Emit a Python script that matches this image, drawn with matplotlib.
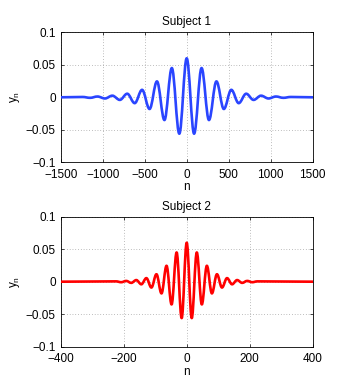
import numpy as np
import matplotlib
matplotlib.use("Agg")
import matplotlib.pyplot as plt
from matplotlib.path import Path
from matplotlib.patches import PathPatch

plt.rcParams['font.family'] = ['Liberation Sans', 'DejaVu Sans']
plt.rcParams['mathtext.fontset'] = 'custom'
plt.rcParams['mathtext.rm'] = 'Liberation Sans'
plt.rcParams['font.size'] = 8.5

# peaks / troughs of the right half (n >= 0).
# both curves are mirror-symmetric about n = 0
amp = [0.06, -0.056, 0.045, -0.035, 0.0245, -0.018, 0.0115, -0.009,
       0.0055, -0.004, 0.0025, -0.0018, 0.0012, -0.0008, 0.0005]
n1_ext = [0, 88, 177, 265, 354, 442, 531, 619, 708, 796, 885, 973, 1062, 1150, 1239]
n2_ext = [0, 16, 32, 48, 64, 80, 96, 112, 128, 144, 160, 176, 192, 208, 224]

x1_ticks = [-1500, -1000, -500, 0, 500, 1000, 1500]
x2_ticks = [-400, -200, 0, 200, 400]
y_ticks = [-0.1, -0.05, 0, 0.05, 0.1]
y_labels = ['\u22120.1', '\u22120.05', '0', '0.05', '0.1']


def wave(ax, n_ext, y_ext, xmax, color):
    # smooth curve through the extrema (horizontal tangent at each one)
    x = np.concatenate([[-xmax], -np.array(n_ext[:0:-1]), n_ext, [xmax]])
    y = np.concatenate([[0], y_ext[:0:-1], y_ext, [0]])
    verts = [(x[0], y[0])]
    codes = [Path.MOVETO]
    for i in range(len(x) - 1):
        d = 0.3642 * (x[i + 1] - x[i])
        verts += [(x[i] + d, y[i]), (x[i + 1] - d, y[i + 1]), (x[i + 1], y[i + 1])]
        codes += [Path.CURVE4] * 3
    ax.add_patch(PathPatch(Path(verts, codes), fill=False, ec=color, lw=1.9,
                           capstyle='round', joinstyle='round', zorder=3))


def style(ax, xticks, title):
    ax.set_xlim(xticks[0], xticks[-1])
    ax.set_ylim(-0.1, 0.1)
    ax.set_xticks(xticks)
    ax.set_xticklabels([str(t).replace('-', '\u2212') for t in xticks])
    ax.set_yticks(y_ticks)
    ax.set_yticklabels(y_labels)
    ax.tick_params(direction='in', top=True, right=True, length=2.5, width=0.5)
    ax.tick_params(axis='y', pad=3.5)
    ax.tick_params(axis='x', pad=4.5)
    ax.grid(True, color='0.5', linestyle=(0, (1, 3)), linewidth=0.5)
    for s in ax.spines.values():
        s.set_linewidth(0.6)
    ax.set_title(title, fontsize=8.5, pad=5)
    ax.set_xlabel('n', labelpad=0.5)
    ax.set_ylabel(r'y$_\mathrm{n}$', labelpad=3)


fig = plt.figure(figsize=(3.46, 3.91), dpi=100)
ax1 = fig.add_axes([0.1754, 0.5849, 0.7284, 0.3325])
ax2 = fig.add_axes([0.1754, 0.1133, 0.7284, 0.3325])

wave(ax1, n1_ext, amp, 1500, '#2a45ff')
style(ax1, x1_ticks, 'Subject 1')

wave(ax2, n2_ext, amp, 400, '#ff0000')
style(ax2, x2_ticks, 'Subject 2')

fig.savefig('out.png', dpi=100)
